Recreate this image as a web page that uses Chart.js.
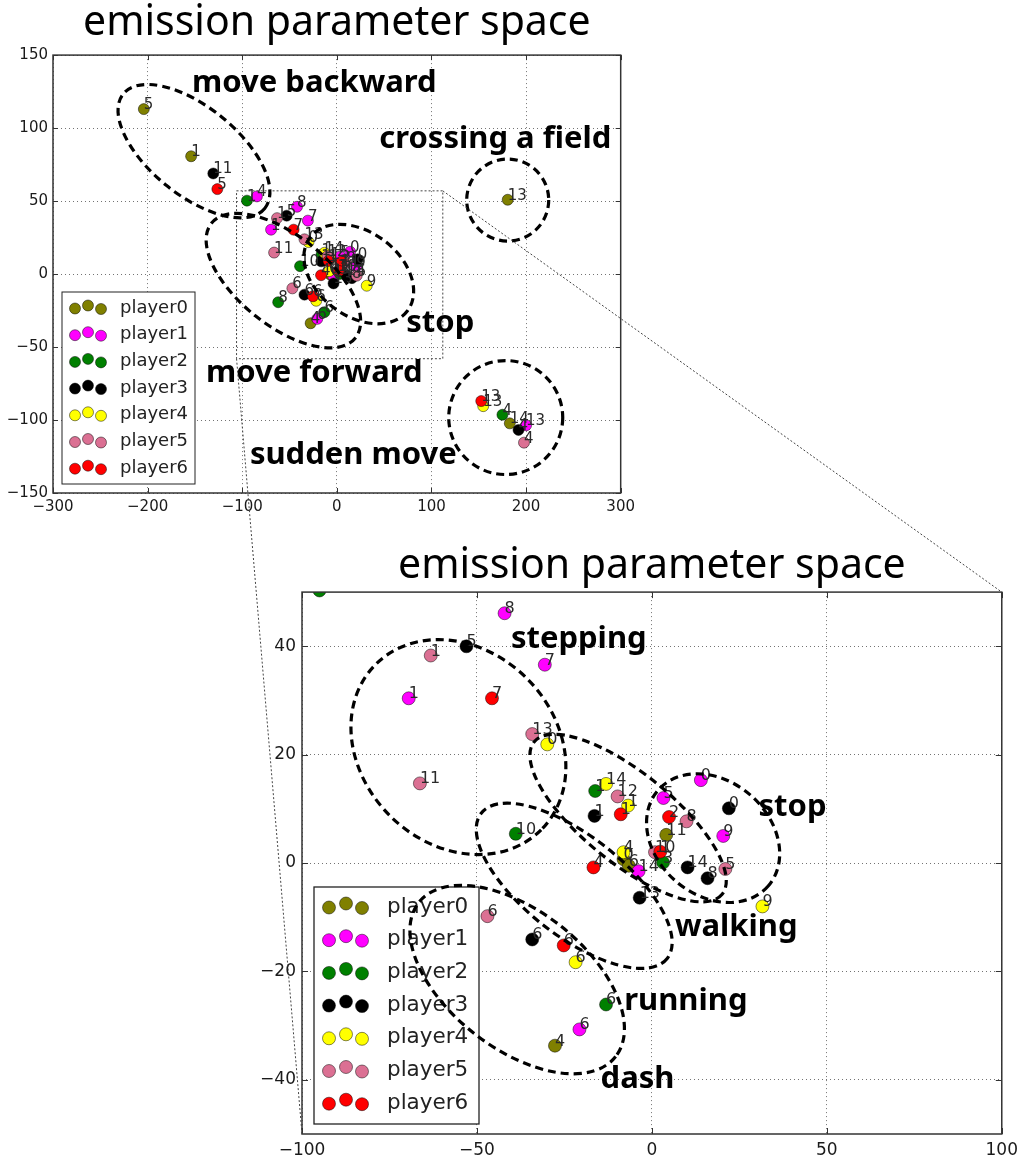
<!DOCTYPE html>
<html>
<head>
<meta charset="utf-8">
<script src="https://cdn.jsdelivr.net/npm/chart.js@4.4.1/dist/chart.umd.min.js"></script>
<style>
  html, body { margin: 0; padding: 0; background: #fff; }
  #page { position: relative; width: 1024px; height: 1162px; overflow: hidden; background: #fff; }
  #overviewWrap { position: absolute; left: 0; top: 0; width: 640px; height: 520px; }
  #detailWrap { position: absolute; left: 250px; top: 530px; width: 774px; height: 632px; }
  #links { position: absolute; left: 0; top: 0; pointer-events: none; }
</style>
</head>
<body>
<div id="page">
  <div id="overviewWrap"><canvas id="overview" width="640" height="520"></canvas></div>
  <div id="detailWrap"><canvas id="detail" width="774" height="632"></canvas></div>
  <canvas id="links" width="1024" height="1162"></canvas>
</div>
<script>
// ---- players ----
const players = ['player0', 'player1', 'player2', 'player3', 'player4', 'player5', 'player6'];
const playerColors = ['#808000', '#ff00ff', '#008000', '#000000', '#ffff00', '#db7093', '#ff0000'];

// ---- emission parameters (x, y) of each hidden state, and the state index ----
const player0X = [-204, -154, 180.6, 182.8, 4.1, -8.1, -6.6, -27.7];
const player0Y = [113, 80.7, 50.9, -102.3, 5.2, 0.7, -0.5, -33.7];
const player0State = ['5', '1', '13', '14', '11', '0', '6', '4'];

const player1X = [-84.5, -42.1, -30.6, -69.5, 14.0, 3.3, 20.4, -3.8, -20.7, 200];
const player1Y = [53.2, 46.1, 36.6, 30.4, 15.3, 12.0, 5.0, -1.5, -30.7, -103.6];
const player1State = ['4', '8', '7', '1', '0', '5', '9', '14', '6', '13'];

const player2X = [-95, -16.2, -38.9, 3.2, -13.1, -62, 175];
const player2Y = [50.3, 13.3, 5.4, 0.1, -26.1, -19.3, -96.4];
const player2State = ['1', '1', '10', '3', '6', '8', '4'];

const player3X = [-130.6, -53, -16.4, 22.0, 10.2, 15.9, -3.5, -34.2, 192];
const player3Y = [68.9, 40.0, 8.7, 10.1, -0.8, -2.8, -6.4, -14.1, -106.8];
const player3State = ['11', '5', '1', '0', '14', '8', '13', '6', '4'];

const player4X = [-29.9, -13.1, -6.8, -8.1, -21.8, 31.6, 154.7];
const player4Y = [21.9, 14.6, 10.6, 2.0, -18.3, -8.0, -90.5];
const player4State = ['0', '14', '1', '4', '6', '9', '13'];

const player5X = [-63.2, -34.2, -66.3, -9.8, 9.9, 0.9, 21.0, -47.0, 197.8];
const player5Y = [38.3, 23.8, 14.7, 12.3, 7.7, 2.0, -1.1, -9.8, -115.5];
const player5State = ['1', '13', '11', '12', '8', '10', '5', '6', '4'];

const player6X = [-126.3, -45.7, -8.9, 4.9, 2.4, -16.7, -25.2, 152.6];
const player6Y = [58.2, 30.4, 9.0, 8.5, 2.1, -0.8, -15.2, -87.0];
const player6State = ['5', '7', '1', '2', '1', '4', '6', '13'];

// ---- axis ranges and ticks ----
const overviewXRange = [-300, 300];
const overviewYRange = [-150, 150];
const overviewXTicks = [-300, -200, -100, 0, 100, 200, 300];
const overviewYTicks = [-150, -100, -50, 0, 50, 100, 150];

const detailXRange = [-100, 100];
const detailYRange = [-50, 50];
const detailXTicks = [-100, -50, 0, 50, 100];
const detailYTicks = [-40, -20, 0, 20, 40];

const chartTitle = 'emission parameter space';

// ---- behaviour regions (centre in data units, radii in px, tilt in degrees) ----
const overviewRegions = [
  { x: -151, y: 84.2, rx: 91, ry: 44, deg: 39 },
  { x: 180.6, y: 50.7, rx: 41, ry: 41, deg: 0 },
  { x: -56.5, y: -4.5, rx: 92, ry: 45, deg: 38.5 },
  { x: 23.2, y: 0, rx: 61, ry: 42, deg: 37 },
  { x: 178.5, y: -98.3, rx: 57, ry: 57, deg: 0 }
];
const overviewNotes = [
  { text: 'move backward', x: -23.8, y: 130.8 },
  { text: 'crossing a field', x: 167.4, y: 92.5 },
  { text: 'stop', x: 109.3, y: -33.6 },
  { text: 'move forward', x: -23.8, y: -67.8 },
  { text: 'sudden move', x: 17.4, y: -124 }
];
// area that is enlarged in the lower plot
const overviewZoomBox = { x0: -106, x1: 112, y0: -58, y1: 57 };

const detailRegions = [
  { x: -55.3, y: 21.4, rx: 117, ry: 97, deg: 45 },
  { x: -6.8, y: 8.3, rx: 121, ry: 45, deg: 39 },
  { x: 17.5, y: 4.6, rx: 73, ry: 57, deg: 41 },
  { x: -22.2, y: -4.2, rx: 118, ry: 50, deg: 38 },
  { x: -38.5, y: -21.5, rx: 125, ry: 69, deg: 38 }
];
const detailNotes = [
  { text: 'stepping', x: -20.9, y: 41.4 },
  { text: 'stop', x: 40.2, y: 10.4 },
  { text: 'walking', x: 24.1, y: -11.9 },
  { text: 'running', x: 9.7, y: -25.5 },
  { text: 'dash', x: -4.1, y: -39.9 }
];

// ---- assemble datasets ----
const allX = [player0X, player1X, player2X, player3X, player4X, player5X, player6X];
const allY = [player0Y, player1Y, player2Y, player3Y, player4Y, player5Y, player6Y];
const allStates = [player0State, player1State, player2State, player3State, player4State, player5State, player6State];

function buildDatasets(radius) {
  return players.map((name, i) => ({
    label: name,
    data: allX[i].map((x, j) => ({ x: x, y: allY[i][j] })),
    states: allStates[i],
    backgroundColor: playerColors[i],
    borderColor: 'rgba(0,0,0,0.6)',
    borderWidth: 0.8,
    pointRadius: radius,
    pointHoverRadius: radius,
    clip: 0,
    order: -i
  }));
}

const minus = v => (v < 0 ? '\u2212' : '') + Math.abs(v);
const noteFamily = '"Noto Sans", "DejaVu Sans", sans-serif';

// draws state labels, legend, regions, notes and the axes frame
function makeArt(cfg) {
  return {
    id: 'art',
    afterDatasetsDraw(chart) {
      const ctx = chart.ctx;
      const a = chart.chartArea;
      const xs = chart.scales.x, ys = chart.scales.y;
      ctx.save();

      // state index next to each point
      ctx.font = cfg.labelSize + 'px "DejaVu Sans"';
      ctx.fillStyle = '#2a2a2a';
      ctx.textAlign = 'left';
      ctx.textBaseline = 'alphabetic';
      chart.data.datasets.forEach((ds, i) => {
        const meta = chart.getDatasetMeta(i);
        meta.data.forEach((pt, j) => {
          const v = ds.data[j];
          if (v.x < xs.min || v.x > xs.max || v.y < ys.min || v.y > ys.max) return;
          ctx.fillText(ds.states[j], pt.x, pt.y);
        });
      });

      // enlarged area outline
      if (cfg.zoomBox) {
        const zb = cfg.zoomBox;
        const l = xs.getPixelForValue(zb.x0), r = xs.getPixelForValue(zb.x1);
        const t = ys.getPixelForValue(zb.y1), b = ys.getPixelForValue(zb.y0);
        ctx.setLineDash([2, 2]);
        ctx.lineWidth = 1;
        ctx.strokeStyle = '#444';
        ctx.strokeRect(l, t, r - l, b - t);
        ctx.setLineDash([]);
      }

      // legend box
      const L = cfg.legend;
      const bx = a.left + L.left, by = a.bottom - L.bottom - L.h;
      ctx.fillStyle = '#fff';
      ctx.fillRect(bx, by, L.w, L.h);
      ctx.lineWidth = L.lw;
      ctx.strokeStyle = '#222';
      ctx.strokeRect(bx, by, L.w, L.h);
      chart.data.datasets.forEach((ds, i) => {
        const cy = by + L.first + i * L.step;
        L.markerX.forEach((mx, k) => {
          ctx.beginPath();
          ctx.arc(bx + mx, cy + L.markerDy[k], cfg.pointRadius, 0, Math.PI * 2);
          ctx.fillStyle = ds.backgroundColor;
          ctx.fill();
          ctx.lineWidth = 0.8;
          ctx.strokeStyle = 'rgba(0,0,0,0.6)';
          ctx.stroke();
        });
        ctx.fillStyle = '#222';
        ctx.font = L.font + 'px "DejaVu Sans"';
        ctx.textAlign = 'left';
        ctx.textBaseline = 'middle';
        ctx.fillText(ds.label, bx + L.textX, cy);
      });

      // behaviour regions
      ctx.setLineDash(cfg.dash);
      ctx.lineWidth = cfg.regionWidth;
      ctx.strokeStyle = '#000';
      cfg.regions.forEach(rg => {
        ctx.beginPath();
        ctx.ellipse(xs.getPixelForValue(rg.x), ys.getPixelForValue(rg.y), rg.rx, rg.ry,
          rg.deg * Math.PI / 180, 0, Math.PI * 2);
        ctx.stroke();
      });
      ctx.setLineDash([]);

      // region names
      ctx.fillStyle = '#000';
      ctx.font = cfg.noteWeight + ' ' + cfg.noteSize + 'px ' + noteFamily;
      ctx.textAlign = 'center';
      ctx.textBaseline = 'middle';
      cfg.notes.forEach(n => {
        ctx.fillText(n.text, xs.getPixelForValue(n.x), ys.getPixelForValue(n.y));
      });

      // axes frame with inward ticks on all sides
      ctx.strokeStyle = '#333';
      ctx.lineWidth = cfg.frameWidth;
      ctx.strokeRect(a.left, a.top, a.right - a.left, a.bottom - a.top);
      ctx.lineWidth = 1;
      const tl = cfg.tickLen;
      ctx.beginPath();
      cfg.xTicks.forEach(v => {
        const px = Math.round(xs.getPixelForValue(v)) + 0.5;
        ctx.moveTo(px, a.bottom); ctx.lineTo(px, a.bottom - tl);
        ctx.moveTo(px, a.top); ctx.lineTo(px, a.top + tl);
      });
      cfg.yTicks.forEach(v => {
        const py = Math.round(ys.getPixelForValue(v)) + 0.5;
        ctx.moveTo(a.left, py); ctx.lineTo(a.left + tl, py);
        ctx.moveTo(a.right, py); ctx.lineTo(a.right - tl, py);
      });
      ctx.stroke();
      ctx.restore();
    }
  };
}

function makeOptions(o) {
  const axis = (range, ticks, fit) => ({
    type: 'linear',
    min: range[0],
    max: range[1],
    afterBuildTicks: s => { s.ticks = ticks.map(v => ({ value: v })); },
    afterFit: fit,
    grid: { color: 'rgba(0,0,0,0.55)', lineWidth: 1, drawTicks: false },
    border: { display: false, dash: [1, 3] },
    ticks: {
      font: { family: '"DejaVu Sans"', size: o.tickSize },
      color: '#1a1a1a',
      padding: o.tickPad,
      maxRotation: 0,
      autoSkip: false,
      callback: minus
    }
  });
  return {
    responsive: false,
    animation: false,
    devicePixelRatio: 1,
    events: [],
    layout: { autoPadding: false, padding: { left: 0, top: o.padTop, right: o.padRight, bottom: 0 } },
    plugins: {
      legend: { display: false },
      tooltip: { enabled: false },
      title: {
        display: true,
        text: chartTitle,
        fullSize: false,
        color: '#000',
        font: { family: noteFamily, size: 41, weight: 'normal', lineHeight: 1.1 },
        padding: o.titlePad
      }
    },
    scales: {
      x: axis(o.xRange, o.xTicks, s => { s.height = o.xAxisH; }),
      y: axis(o.yRange, o.yTicks, s => { s.width = o.yAxisW; })
    }
  };
}

const overviewChart = new Chart(document.getElementById('overview'), {
  type: 'scatter',
  data: { datasets: buildDatasets(5.5) },
  options: makeOptions({
    xRange: overviewXRange, yRange: overviewYRange, xTicks: overviewXTicks, yTicks: overviewYTicks,
    tickSize: 15, tickPad: 5, padTop: 0, padRight: 19, xAxisH: 27, yAxisW: 53,
    titlePad: { top: 1, bottom: 9 }
  }),
  plugins: [makeArt({
    labelSize: 15, pointRadius: 5.5, zoomBox: overviewZoomBox,
    legend: { left: 9, bottom: 9, w: 133, h: 192, first: 16, step: 26.7, markerX: [13, 26, 39],
      markerDy: [0.5, -2.5, 1], textX: 58, font: 18, lw: 1 },
    regions: overviewRegions, notes: overviewNotes, dash: [8, 5], regionWidth: 3.2,
    noteSize: 31, noteWeight: 'bold', frameWidth: 1.5, tickLen: 5,
    xTicks: overviewXTicks, yTicks: overviewYTicks
  })]
});

const detailChart = new Chart(document.getElementById('detail'), {
  type: 'scatter',
  data: { datasets: buildDatasets(6.5) },
  options: makeOptions({
    xRange: detailXRange, yRange: detailYRange, xTicks: detailXTicks, yTicks: detailYTicks,
    tickSize: 17, tickPad: 6, padTop: 0, padRight: 19, xAxisH: 28, yAxisW: 52,
    titlePad: { top: 14, bottom: 3 }
  }),
  plugins: [makeArt({
    labelSize: 16, pointRadius: 6.5, zoomBox: null,
    legend: { left: 12, bottom: 10, w: 165, h: 237, first: 20, step: 32.7, markerX: [15, 32, 48],
      markerDy: [0.5, -3.5, 1], textX: 73, font: 21.5, lw: 1.3 },
    regions: detailRegions, notes: detailNotes, dash: [8, 5], regionWidth: 3.2,
    noteSize: 31, noteWeight: 'bold', frameWidth: 1.5, tickLen: 6,
    xTicks: detailXTicks, yTicks: detailYTicks
  })]
});

// dotted guide lines from the enlarged area to the lower plot
(function drawLinks() {
  const ctx = document.getElementById('links').getContext('2d');
  const ov = overviewChart, dt = detailChart;
  const ovLeft = 0, ovTop = 0, dtLeft = 250, dtTop = 530;
  const zb = overviewZoomBox;
  const p1 = [ovLeft + ov.scales.x.getPixelForValue(zb.x1), ovTop + ov.scales.y.getPixelForValue(zb.y1)];
  const q1 = [dtLeft + dt.chartArea.right, dtTop + dt.chartArea.top];
  const p2 = [ovLeft + ov.scales.x.getPixelForValue(zb.x0), ovTop + ov.scales.y.getPixelForValue(zb.y0)];
  const q2 = [dtLeft + dt.chartArea.left, dtTop + dt.chartArea.bottom];
  ctx.setLineDash([2, 2]);
  ctx.lineWidth = 1;
  ctx.strokeStyle = '#444';
  ctx.beginPath();
  ctx.moveTo(p1[0], p1[1]); ctx.lineTo(q1[0], q1[1]);
  ctx.moveTo(p2[0], p2[1]); ctx.lineTo(q2[0], q2[1]);
  ctx.stroke();
})();
</script>
</body>
</html>
